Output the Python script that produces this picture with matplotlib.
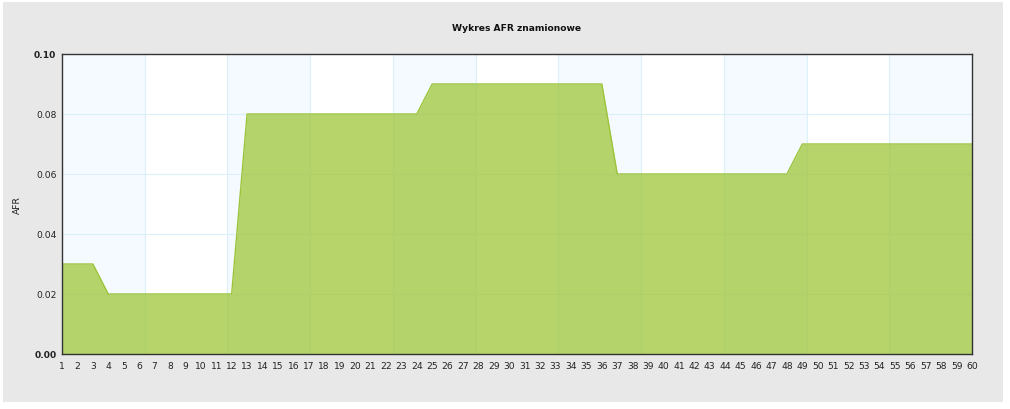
import numpy as np
import matplotlib
matplotlib.use("Agg")
import matplotlib.pyplot as plt
from matplotlib.patches import Rectangle

# AFR values for positions 1..60
positions = list(range(1, 61))
afr = [0.03] * 3 + [0.02] * 9 + [0.08] * 12 + [0.09] * 12 + [0.06] * 12 + [0.07] * 12
y_ticks = [0.00, 0.02, 0.04, 0.06, 0.08, 0.10]
title = "Wykres AFR znamionowe"
y_label = "AFR"

plt.rcParams['font.family'] = ['DejaVu Sans']

fig = plt.figure(figsize=(10.1, 4.1), dpi=100, facecolor="white")
# grey panel behind the chart
fig.patches.append(Rectangle((3 / 1010, 7 / 410), 1000 / 1010, 400 / 410,
                             transform=fig.transFigure, facecolor="#e8e8e8",
                             edgecolor="none", zorder=-10))

ax = fig.add_axes([62 / 1010, 55 / 410, 910 / 1010, 300 / 410])
ax.set_facecolor("white")
ax.set_xlim(positions[0], positions[-1])
ax.set_ylim(y_ticks[0], y_ticks[-1])

# alternating vertical bands (11 equal slices of the x range)
edges = np.linspace(positions[0], positions[-1], 12)
for i in range(11):
    if i % 2 == 0:
        ax.axvspan(edges[i], edges[i + 1], color="#f4faff", zorder=0, lw=0)
for e in edges[1:-1]:
    ax.axvline(e, color="#dcf0fa", lw=0.8, zorder=1)
for t in y_ticks[1:-1]:
    ax.axhline(t, color="#dcf0fa", lw=0.8, zorder=1)

ax.fill_between(positions, afr, 0, color="#9cc432", alpha=0.72, lw=0, zorder=2)
ax.plot(positions, afr, color="#9cc43a", lw=1.0, zorder=3)

ax.set_xticks(positions)
ax.set_xticklabels([str(p) for p in positions], fontsize=6.6, color="#222222")
ax.set_yticks(y_ticks)
ax.set_yticklabels(["%.2f" % t for t in y_ticks], fontsize=6.6, color="#222222")
for lbl in (ax.get_yticklabels()[0], ax.get_yticklabels()[-1]):
    lbl.set_fontweight("bold")
ax.tick_params(axis="both", length=0)
ax.tick_params(axis="x", pad=5)
ax.tick_params(axis="y", pad=4)

for s in ax.spines.values():
    s.set_color("#333333")
    s.set_linewidth(1.0)
    s.set_zorder(5)

ax.set_title(title, fontsize=6.6, fontweight="bold", color="#111111", pad=17)
ax.set_ylabel(y_label, fontsize=6.6, color="#222222")
ax.yaxis.set_label_coords(-40 / 910, 0.5)

fig.savefig("out.png", dpi=100, facecolor=fig.get_facecolor())
